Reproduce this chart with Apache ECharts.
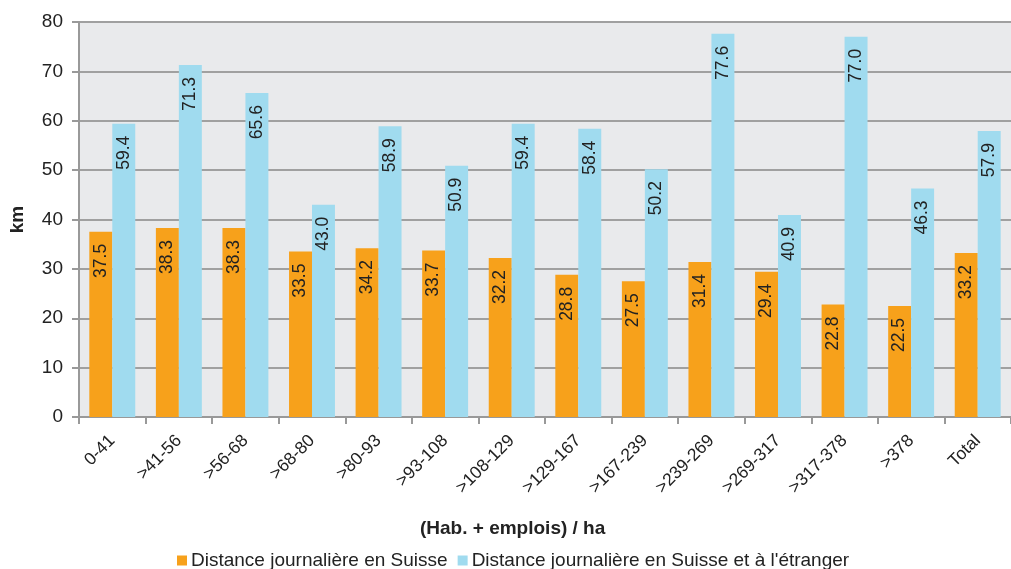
<!DOCTYPE html>
<html>
<head>
<meta charset="utf-8">
<script src="https://cdn.jsdelivr.net/npm/echarts@6/dist/echarts.min.js"></script>
<style>
  html, body { margin: 0; padding: 0; background: #fff; }
  #chart { width: 1011px; height: 569px; }
</style>
</head>
<body>
<div id="chart"></div>
<script>
// Density classes (inhabitants + jobs per hectare)
const categories = ['0-41', '>41-56', '>56-68', '>68-80', '>80-93', '>93-108', '>108-129',
  '>129-167', '>167-239', '>239-269', '>269-317', '>317-378', '>378', 'Total'];

// Daily distance travelled, km
const distanceSuisse = [37.5, 38.3, 38.3, 33.5, 34.2, 33.7, 32.2, 28.8, 27.5, 31.4, 29.4, 22.8, 22.5, 33.2];
const distanceSuisseEtranger = [59.4, 71.3, 65.6, 43.0, 58.9, 50.9, 59.4, 58.4, 50.2, 77.6, 40.9, 77.0, 46.3, 57.9];

const seriesNames = ['Distance journalière en Suisse', "Distance journalière en Suisse et à l'étranger"];
const yTicks = { min: 0, max: 80, interval: 10 };

const FONT = 'Liberation Sans, Arial, sans-serif';
const TEXT = '#222';

const barLabel = {
  show: true,
  position: 'insideTop',
  distance: 12,
  rotate: 90,
  align: 'right',
  verticalAlign: 'middle',
  fontFamily: FONT,
  fontSize: 17.5,
  color: TEXT,
  formatter: p => p.value.toFixed(1)
};

const chart = echarts.init(document.getElementById('chart'), null, { renderer: 'canvas' });
chart.setOption({
  animation: false,
  textStyle: { fontFamily: FONT },
  grid: {
    left: 77, top: 22, width: 943, height: 395,
    show: true, backgroundColor: '#e9eaec', borderWidth: 0,
    containLabel: false
  },
  legend: {
    left: 177, top: 551, padding: 0,
    itemWidth: 10, itemHeight: 10, itemGap: 10,
    icon: 'rect',
    textStyle: { fontFamily: FONT, fontSize: 19, color: TEXT, padding: [0, 0, 0, -1] },
    data: seriesNames
  },
  graphic: [{
    type: 'text',
    left: 420, top: 519,
    style: {
      text: '(Hab. + emplois) / ha',
      font: 'bold 19px ' + FONT,
      fill: TEXT
    }
  }],
  xAxis: {
    type: 'category',
    data: categories,
    axisLine: { show: true, lineStyle: { color: '#999', width: 2 } },
    axisTick: { show: true, length: 7, lineStyle: { color: '#999', width: 2 } },
    axisLabel: {
      rotate: 45, fontSize: 17.5, color: TEXT, fontFamily: FONT,
      margin: 21, interval: 0
    },
    splitLine: { show: false }
  },
  yAxis: {
    type: 'value',
    min: yTicks.min, max: yTicks.max, interval: yTicks.interval,
    name: 'km',
    nameLocation: 'middle',
    nameGap: 52,
    nameRotate: 90,
    nameTextStyle: { fontWeight: 'bold', fontSize: 19, color: TEXT, fontFamily: FONT },
    axisLine: { show: true, lineStyle: { color: '#999', width: 2 } },
    axisTick: { show: true, length: 7, lineStyle: { color: '#999', width: 2 } },
    axisLabel: { fontSize: 19, color: TEXT, fontFamily: FONT, margin: 16 },
    splitLine: { show: true, lineStyle: { color: '#a0a0a0', width: 2 } }
  },
  series: [
    {
      name: seriesNames[0],
      type: 'bar',
      data: distanceSuisse,
      barGap: '0%',
      barCategoryGap: '31%',
      itemStyle: { color: '#f7a11b' },
      label: barLabel
    },
    {
      name: seriesNames[1],
      type: 'bar',
      data: distanceSuisseEtranger,
      barGap: '0%',
      barCategoryGap: '31%',
      itemStyle: { color: '#a0dbef' },
      label: barLabel
    }
  ]
});
</script>
</body>
</html>
